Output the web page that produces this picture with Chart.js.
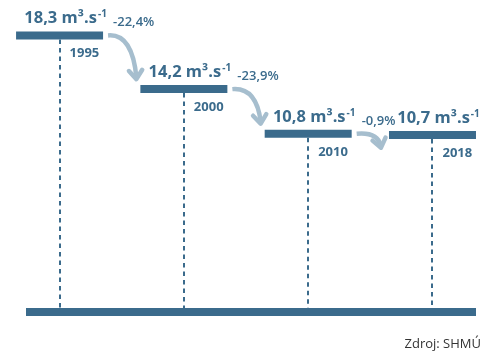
<!DOCTYPE html>
<html>
<head>
<meta charset="utf-8">
<script src="https://cdn.jsdelivr.net/npm/chart.js@4.4.1/dist/chart.umd.min.js"></script>
<style>
    html, body { margin: 0; padding: 0; background: #ffffff; }
    #flow-chart { display: block; }
</style>
</head>
<body>
<canvas id="flow-chart" width="485" height="353"></canvas>
<script>
// Values
const years = ['1995', '2000', '2010', '2018'];
const flows = [18.3, 14.2, 10.8, 10.7];
const flowLabels = ['18,3', '14,2', '10,8', '10,7'];
const changes = ['-22,4%', '-23,9%', '-0,9%'];
const unit = ' m³.s';
const unitSup = '-1';
const source = 'Zdroj: SHMÚ';

const BLUE = '#3b6b8c';
const ARROW = '#a6bece';
const HALF = 43.5; // half length of each step bar

// Dashed drops, floor, arrows and texts drawn around the step bars
const stepDecor = {
    id: 'stepDecor',
    beforeDatasetsDraw(chart) {
        const ctx = chart.ctx;
        const area = chart.chartArea;
        const pts = chart.getDatasetMeta(0).data;

        ctx.save();
        // dashed vertical lines
        ctx.strokeStyle = BLUE;
        ctx.lineWidth = 2;
        ctx.setLineDash([4.5, 4]);
        pts.forEach(p => {
            ctx.beginPath();
            ctx.moveTo(Math.round(p.x), p.y + 4);
            ctx.lineTo(Math.round(p.x), area.bottom);
            ctx.stroke();
        });
        ctx.setLineDash([]);

        // floor bar
        ctx.fillStyle = BLUE;
        ctx.fillRect(area.left, area.bottom, area.right - area.left, 8);
        ctx.restore();
    },
    afterDatasetsDraw(chart) {
        const ctx = chart.ctx;
        const pts = chart.getDatasetMeta(0).data;

        ctx.save();
        // curved arrows between steps
        for (let i = 0; i < pts.length - 1; i++) {
            const p = pts[i];
            const q = pts[i + 1];
            const sx = p.x + HALF + 5;
            const sy = p.y;
            let tx = q.x - HALF - 4;
            let ty = q.y - 10;
            if (ty < sy + 14) {
                ty = sy + 14;
                tx = q.x - HALF - 8;
            }
            const cx = sx + 0.85 * (tx - sx);
            const cy = sy - 2;

            ctx.strokeStyle = ARROW;
            ctx.lineWidth = 4.5;
            ctx.lineCap = 'butt';
            ctx.beginPath();
            ctx.moveTo(sx, sy);
            ctx.quadraticCurveTo(cx, cy, tx, ty - 2);
            ctx.stroke();

            // chevron head
            const ang = Math.atan2(ty - cy, tx - cx);
            const len = 11;
            ctx.lineCap = 'round';
            ctx.lineJoin = 'round';
            ctx.beginPath();
            ctx.moveTo(tx - len * Math.cos(ang - 0.65), ty - len * Math.sin(ang - 0.65));
            ctx.lineTo(tx, ty);
            ctx.lineTo(tx - len * Math.cos(ang + 0.65), ty - len * Math.sin(ang + 0.65));
            ctx.stroke();

            // percent change
            ctx.fillStyle = BLUE;
            ctx.font = '600 13px "Open Sans"';
            ctx.textAlign = 'left';
            ctx.textBaseline = 'alphabetic';
            ctx.fillText(changes[i], p.x + HALF + 10, p.y - 9);
        }

        // values and years
        pts.forEach((p, i) => {
            ctx.fillStyle = BLUE;
            ctx.textBaseline = 'alphabetic';
            ctx.textAlign = 'left';
            const main = flowLabels[i] + unit;
            ctx.font = 'bold 16.5px "Open Sans"';
            const w1 = ctx.measureText(main).width;
            ctx.font = 'bold 10px "Open Sans"';
            const w2 = ctx.measureText(unitSup).width;
            const x0 = p.x + 6 - (w1 + w2 + 1) / 2;
            const by = p.y - 12;
            ctx.font = 'bold 16.5px "Open Sans"';
            ctx.fillText(main, x0, by);
            ctx.font = 'bold 10px "Open Sans"';
            ctx.fillText(unitSup, x0 + w1 + 1, by - 6);

            ctx.font = 'bold 13px "Open Sans"';
            ctx.fillText(years[i], p.x + 10, p.y + 22);
        });

        // source
        ctx.fillStyle = '#333333';
        ctx.font = '13px "Open Sans"';
        ctx.textAlign = 'right';
        ctx.fillText(source, 481, 348);
        ctx.restore();
    }
};

new Chart(document.getElementById('flow-chart'), {
    type: 'scatter',
    data: {
        labels: years,
        datasets: [{
            data: flows.map((v, i) => ({ x: i, y: v })),
            pointStyle: 'line',
            pointRadius: HALF,
            pointHoverRadius: HALF,
            pointBorderWidth: 8,
            pointBorderColor: BLUE,
            pointBackgroundColor: BLUE,
            clip: false
        }]
    },
    options: {
        responsive: false,
        animation: false,
        events: [],
        layout: {
            autoPadding: false,
            padding: { left: 26, right: 9, top: 0, bottom: 45 }
        },
        plugins: {
            legend: { display: false },
            tooltip: { enabled: false }
        },
        scales: {
            x: { type: 'linear', min: -0.27, max: 3.35, display: false },
            y: { type: 'linear', min: -2.5, max: 21, display: false }
        }
    },
    plugins: [stepDecor]
});
</script>
</body>
</html>
